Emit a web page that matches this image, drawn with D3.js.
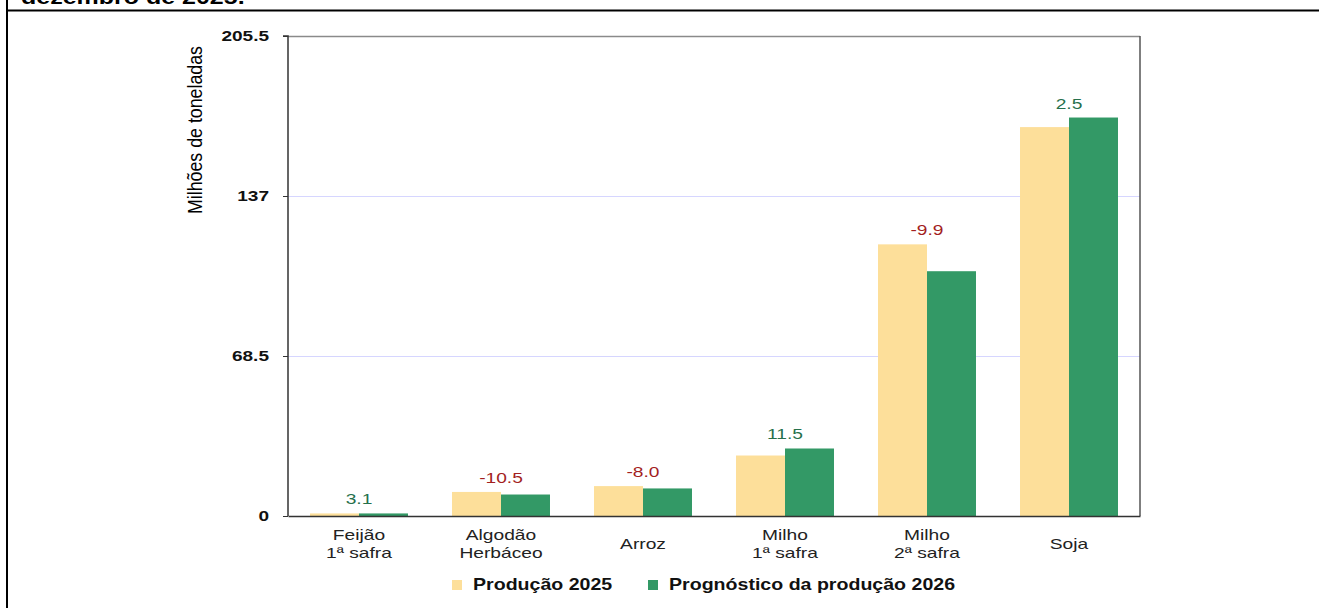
<!DOCTYPE html>
<html>
<head>
<meta charset="utf-8">
<script src="https://cdn.jsdelivr.net/npm/d3@7"></script>
<style>
  html, body { margin: 0; padding: 0; background: #fff; }
  svg { display: block; }
  text { font-family: "Liberation Sans", Arial, sans-serif; }
</style>
</head>
<body>
<svg id="chart" width="1319" height="608"></svg>
<script>
const categories = [["Feijão", "1ª safra"], ["Algodão", "Herbáceo"], ["Arroz"], ["Milho", "1ª safra"], ["Milho", "2ª safra"], ["Soja"]];
const producao2025 = [1.1, 10.3, 12.8, 25.9, 116.3, 166.5];
const prognostico2026 = [1.1, 9.2, 11.8, 28.9, 104.8, 170.6];
const variacao = ["3.1", "-10.5", "-8.0", "11.5", "-9.9", "2.5"];
const yTicks = [0, 68.5, 137, 205.5];
const yTickLabels = ["0", "68.5", "137", "205.5"];
const seriesNames = ["Produção 2025", "Prognóstico da produção 2026"];
const titleText = "dezembro de 2025.";
const yAxisTitle = "Milhões de toneladas";

const colors = ["#fddf9a", "#339966"];
const svg = d3.select("#chart");
const W = 1319, H = 608;
const m = { left: 288, right: 1140, top: 36, bottom: 516 };

// text placed at (x,y) and stretched horizontally
function stext(parent, x, y, sx) {
  return parent.append("text").attr("transform", `translate(${x},${y}) scale(${sx},1)`);
}

// outer frame & cut title
stext(svg, 21, 4, 1.25).attr("font-size", 20).attr("font-weight", "bold").attr("fill", "#000").text(titleText);
svg.append("line").attr("x1", 7).attr("x2", W).attr("y1", 10.5).attr("y2", 10.5).attr("stroke", "#000").attr("stroke-width", 2);
svg.append("line").attr("x1", 7).attr("x2", 7).attr("y1", 0).attr("y2", H).attr("stroke", "#000").attr("stroke-width", 2);

const idx = categories.map((d, i) => i);
const x = d3.scaleBand().domain(idx).range([m.left, m.right]).paddingInner(0.31).paddingOuter(0.155);
const xs = d3.scaleBand().domain([0, 1]).range([0, x.bandwidth()]);
const y = d3.scaleLinear().domain([0, 205.5]).range([m.bottom, m.top]);

// gridlines
svg.append("g").selectAll("line").data(yTicks.filter(t => t > 0 && t < 205.5)).join("line")
  .attr("x1", m.left).attr("x2", m.right)
  .attr("y1", d => Math.round(y(d)) + 0.5).attr("y2", d => Math.round(y(d)) + 0.5)
  .attr("stroke", "#d6d6ff").attr("stroke-width", 1);

// top & right border
svg.append("line").attr("x1", m.left).attr("x2", m.right).attr("y1", m.top + 0.5).attr("y2", m.top + 0.5).attr("stroke", "#8a8a8a").attr("stroke-width", 1.5);
svg.append("line").attr("x1", m.right).attr("x2", m.right).attr("y1", m.top).attr("y2", m.bottom).attr("stroke", "#555").attr("stroke-width", 1.5);

// bars
const series = [producao2025, prognostico2026];
series.forEach((vals, s) => {
  svg.append("g").selectAll("rect").data(vals).join("rect")
    .attr("x", (d, i) => x(i) + xs(s))
    .attr("width", xs.bandwidth())
    .attr("y", d => y(d))
    .attr("height", d => y(0) - y(d))
    .attr("fill", colors[s]);
});

// value labels
const gl = svg.append("g");
variacao.forEach((d, i) => {
  stext(gl, x(i) + x.bandwidth() / 2, y(Math.max(producao2025[i], prognostico2026[i])) - 9, 1.28)
    .attr("text-anchor", "middle")
    .attr("font-size", 15)
    .attr("fill", d.startsWith("-") ? "#a31f1f" : "#26704c")
    .text(d);
});

// y axis
const yAxis = d3.axisLeft(y).tickValues(yTicks).tickFormat((d, i) => yTickLabels[i]).tickSize(5).tickPadding(14);
const gy = svg.append("g").attr("transform", `translate(${m.left},0)`).call(yAxis);
gy.select(".domain").attr("stroke", "#333").attr("stroke-width", 1.5).attr("d", `M-5,${m.top}H0V${m.bottom}`);
gy.selectAll(".tick line").attr("stroke", "#333");
gy.selectAll(".tick text").each(function() {
  const t = d3.select(this);
  const tx = +t.attr("x");
  t.attr("x", 0).attr("transform", `translate(${tx},0) scale(1.27,1)`);
}).attr("font-size", 15).attr("font-weight", "bold").attr("fill", "#111")
  .attr("font-family", "'Liberation Sans', Arial, sans-serif");

// x axis
const xAxis = d3.axisBottom(x).tickSize(0).tickFormat(() => "");
const gx = svg.append("g").attr("transform", `translate(0,${m.bottom})`).call(xAxis);
gx.select(".domain").attr("stroke", "#333").attr("stroke-width", 1.5);
gx.selectAll(".tick").each(function(d) {
  const lines = categories[d];
  const t = d3.select(this).append("text").attr("text-anchor", "middle").attr("fill", "#222").attr("font-size", 15)
    .attr("transform", "scale(1.28,1)")
    .attr("font-family", "'Liberation Sans', Arial, sans-serif");
  const startY = lines.length === 1 ? 33 : 24;
  lines.forEach((l, k) => t.append("tspan").attr("x", 0).attr("y", startY + k * 18).text(l));
});

// y axis title
svg.append("text").attr("transform", `translate(202,130) scale(1.3,1) rotate(-90)`)
  .attr("text-anchor", "middle").attr("font-size", 15).attr("fill", "#000")
  .attr("textLength", 168).attr("lengthAdjust", "spacingAndGlyphs")
  .text(yAxisTitle);

// legend
const legendX = [452, 648];
seriesNames.forEach((n, s) => {
  svg.append("rect").attr("x", legendX[s]).attr("y", 580).attr("width", 10).attr("height", 10).attr("fill", colors[s]);
  stext(svg, legendX[s] + 21, 590, 1.24).attr("font-size", 15.8).attr("font-weight", "bold").attr("fill", "#111").text(n);
});
</script>
</body>
</html>
